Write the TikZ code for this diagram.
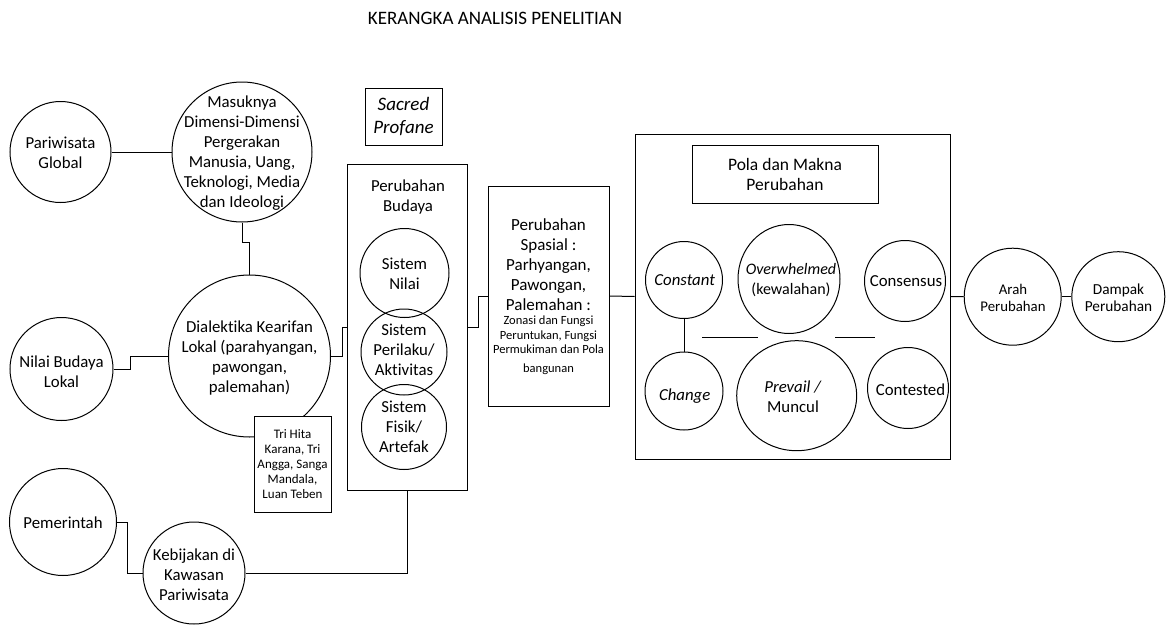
\documentclass[tikz,border=0pt]{standalone}
\usepackage{fontspec}
\setmainfont{Carlito}[Ligatures=NoCommon]
\usetikzlibrary{shapes.geometric}
\begin{document}
\begin{tikzpicture}[x=1pt,y=-1pt, line width=1pt,
  circ/.style={draw, circle, inner sep=0pt, minimum size=#1},
  ell/.style 2 args={draw, ellipse, inner sep=0pt, minimum width=#1, minimum height=#2},
  rbox/.style 2 args={draw, fill=white, rectangle, inner sep=0pt, minimum width=#1, minimum height=#2, align=center},
  txt/.style={align=center, inner sep=0pt, font=\fontsize{16.8}{20}\selectfont},
  smalltxt/.style={align=center, inner sep=0pt, font=\fontsize{12.5}{14.5}\selectfont},
  ]
\useasboundingbox (0,0) rectangle (1170,624);

% title
\node[txt, font=\fontsize{19}{22}\selectfont] (title) at (495,18) {KERANGKA ANALISIS PENELITIAN};

% left column circles
\node[circ=101] (pg) at (60.5,152) {};
\node[txt] (pgT) at (60.5,153) {Pariwisata\\Global};
\node[circ=140] (mas) at (242,152) {};
\node[txt] (masT) at (242,153) {Masuknya\\Dimensi-Dimensi\\Pergerakan\\Manusia, Uang,\\Teknologi, Media\\dan Ideologi};
\node[circ=162] (dia) at (249.5,356) {};
\node[txt] (diaT) at (249.5,358) {Dialektika Kearifan\\Lokal (parahyangan,\\pawongan,\\palemahan)};
\node[circ=103] (nil) at (61.5,369) {};
\node[txt] (nilT) at (61.5,371.5) {Nilai Budaya\\Lokal};
\node[circ=107] (pem) at (63,522) {};
\node[txt] (pemT) at (63,523) {Pemerintah};
\node[circ=102] (keb) at (194,573) {};
\node[txt] (kebT) at (194,575) {Kebijakan di\\Kawasan\\Pariwisata};

\node[rbox={77}{96}, font=\fontsize{13}{15.2}\selectfont] (tri) at (292.5,464) {Tri Hita\\Karana, Tri\\Angga, Sanga\\Mandala,\\Luan Teben};

% sacred profane
\node[rbox={77}{57}, font=\fontsize{19}{23}\selectfont\itshape] (sac) at (403.5,116.5) {Sacred\\Profane};

% perubahan budaya
\node[rbox={120}{326}] (pb) at (407,327) {};
\node[txt] (pbT) at (408,197) {Perubahan\\Budaya};
\node[circ=89] (sn) at (404.5,273) {};
\node[txt] (snT) at (404.5,274) {Sistem\\Nilai};
\node[circ=86] (sper) at (404,352) {};
\node[txt] (sperT) at (404,350) {Sistem\\Perilaku/\\Aktivitas};
\node[circ=85] (sfis) at (404,427) {};
\node[txt] (sfisT) at (404,427) {Sistem\\Fisik/\\Artefak};

% perubahan spasial
\node[rbox={121}{220}] (spa) at (548.5,296) {};
\node[txt, font=\fontsize{17}{20}\selectfont] (spaT) at (548.5,265) {Perubahan\\Spasial :\\Parhyangan,\\Pawongan,\\Palemahan :};
\node[smalltxt] (spaS) at (548.5,345) {Zonasi dan Fungsi\\Peruntukan, Fungsi\\Permukiman dan Pola\\[4pt]bangunan};

% big box
\node[rbox={315.5}{325}] (big) at (792.75,296.5) {};
\node[rbox={186}{58}, font=\fontsize{17.5}{20}\selectfont] (pola) at (785,174) {Pola dan Makna\\Perubahan};
\node[circ=77] (con) at (684,280) {};
\node[txt] (conT) at (684.7,280) {\itshape Constant};
\node[circ=78] (chg) at (684,391) {};
\node[txt] (chgT) at (684.7,396) {\itshape Change};
\node[ell={102}{109}] (ovr) at (789,279) {};
\node[txt, font=\fontsize{16}{20}\selectfont] (ovrT) at (791,280) {\textit{Overwhelmed}\\(kewalahan)};
\node[ell={120}{110}] (prv) at (796.7,395.7) {};
\node[txt] (prvT) at (793,396.7) {\textit{Prevail /}\\Muncul};
\node[circ=81] (cns) at (905,281) {};
\node[txt] (cnsT) at (906,281.5) {Consensus};
\node[circ=81] (ctd) at (908,388) {};
\node[txt] (ctdT) at (910.5,390) {Contested};

\coordinate (h1a) at (702,337);
\coordinate (h1b) at (758,337);
\coordinate (h2a) at (835,337);
\coordinate (h2b) at (875,337);
\draw (h1a) -- (h1b);
\draw (h2a) -- (h2b);

% right circles
\node[circ=97] (arah) at (1012.7,296.7) {};
\node[txt, font=\fontsize{14.8}{16.5}\selectfont] (arahT) at (1013,298) {Arah\\Perubahan};
\node[ell={93}{90}] (dam) at (1118.3,296.7) {};
\node[txt, font=\fontsize{15.3}{16.8}\selectfont] (damT) at (1118.5,298) {Dampak\\Perubahan};

% connectors
\draw (pg.east) -- (mas.west);
\draw (mas.south) -- ++(0,20) -| (dia.north);
\draw (nil.east) -- ++(17,0) |- (dia.west);
\draw (dia.east) -- ++(11,0) |- (pb.west);
\draw (pem.east) -- ++(10,0) |- (keb.west);
\draw (keb.east) -| (pb.south);
\draw (pb.east) -- ++(10.7,0) |- (spa.west);
\draw (spa.east) -- (big.west);
\draw (big.east) -- (arah.west);
\draw (arah.east) -- (dam.west);
\draw (con.south) -- (chg.north);
\end{tikzpicture}
\end{document}
